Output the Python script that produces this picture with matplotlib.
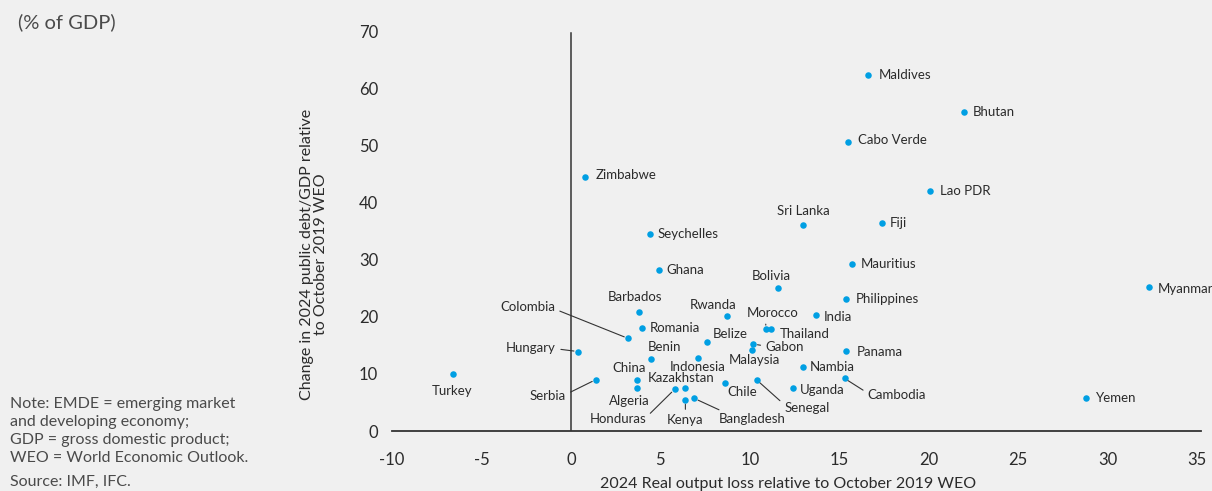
import matplotlib
matplotlib.use("Agg")
import matplotlib.pyplot as plt

plt.rcParams['font.family'] = ['Lato', 'DejaVu Sans']
plt.rcParams['axes.unicode_minus'] = False

BG = '#f0f0f0'
DOT = '#009fe3'
INK = '#2b2b2b'
NOTE = '#4a4a4a'

countries = [
    "Maldives", "Bhutan", "Cabo Verde", "Lao PDR", "Sri Lanka", "Fiji",
    "Zimbabwe", "Seychelles", "Ghana", "Mauritius", "Bolivia", "Myanmar",
    "Philippines", "India", "Barbados", "Rwanda", "Colombia", "Romania",
    "Morocco", "Thailand", "Belize", "Gabon", "Malaysia", "Hungary",
    "Panama", "Benin", "Indonesia", "Nambia", "Turkey", "China", "Serbia",
    "Kazakhstan", "Algeria", "Honduras", "Chile", "Senegal", "Uganda",
    "Cambodia", "Kenya", "Bangladesh", "Yemen",
]
output_loss = [
    16.6, 22.0, 15.5, 20.1, 13.0, 17.4,
    0.8, 4.4, 4.9, 15.7, 11.6, 32.3,
    15.4, 13.7, 3.8, 8.7, 3.2, 4.0,
    10.9, 11.2, 7.6, 10.2, 10.1, 0.4,
    15.4, 4.5, 7.1, 13.0, -6.6, 3.7, 1.4,
    6.4, 3.7, 5.8, 8.6, 10.4, 12.4,
    15.3, 6.4, 6.9, 28.8,
]
debt_change = [
    62.3, 55.8, 50.6, 42.0, 36.0, 36.4,
    44.4, 34.4, 28.1, 29.2, 25.0, 25.2,
    23.1, 20.3, 20.8, 20.2, 16.2, 18.0,
    17.8, 17.8, 15.6, 15.2, 14.2, 13.9,
    14.0, 12.6, 12.7, 11.2, 9.9, 9.0, 9.0,
    7.5, 7.6, 7.3, 8.4, 8.9, 7.5,
    9.2, 5.4, 5.7, 5.8,
]

x_ticks = [-10, -5, 0, 5, 10, 15, 20, 25, 30, 35]
y_ticks = [0, 10, 20, 30, 40, 50, 60, 70]

# label placement: offset in pixels from the dot, text alignment, leader relpos (None = no line)
LABEL_POS = {
    "Maldives": (11, 0, 'left', None),
    "Bhutan": (8, 0, 'left', None),
    "Cabo Verde": (10, 2, 'left', None),
    "Lao PDR": (10, 0, 'left', None),
    "Sri Lanka": (0, 14, 'center', None),
    "Fiji": (8, 0, 'left', None),
    "Zimbabwe": (10, 2, 'left', None),
    "Seychelles": (8, 0, 'left', None),
    "Ghana": (8, 0, 'left', None),
    "Mauritius": (9, 0, 'left', None),
    "Bolivia": (-7, 12, 'center', None),
    "Myanmar": (9, -2, 'left', None),
    "Philippines": (9, 0, 'left', None),
    "India": (8, -2, 'left', None),
    "Barbados": (-4, 15, 'center', None),
    "Rwanda": (-13, 11, 'center', None),
    "Colombia": (-73, 31, 'right', (1.0, 0.35)),
    "Romania": (7, 0, 'left', None),
    "Morocco": (7, 16, 'center', (0.36, 0.0)),
    "Thailand": (8, -5, 'left', None),
    "Belize": (6, 8, 'left', None),
    "Gabon": (12, -3, 'left', (0.0, 0.6)),
    "Malaysia": (3, -10, 'center', None),
    "Hungary": (-22, 4, 'right', (1.0, 0.4)),
    "Panama": (10, -1, 'left', None),
    "Benin": (13, 12, 'center', None),
    "Indonesia": (0, -9, 'center', None),
    "Nambia": (6, 0, 'left', None),
    "Turkey": (-1, -17, 'center', None),
    "China": (-8, 12, 'center', None),
    "Serbia": (-30, -16, 'right', (1.0, 0.6)),
    "Kazakhstan": (-4, 10, 'center', None),
    "Algeria": (-8, -13, 'center', None),
    "Honduras": (-57, -30, 'center', (1.0, 0.65)),
    "Chile": (3, -9, 'left', None),
    "Senegal": (50, -28, 'center', (0.0, 0.8)),
    "Uganda": (7, -2, 'left', None),
    "Cambodia": (23, -17, 'left', (0.0, 0.7)),
    "Kenya": (0, -20, 'center', (0.5, 1.0)),
    "Bangladesh": (58, -21, 'center', (0.12, 1.0)),
    "Yemen": (10, 0, 'left', None),
}

fig = plt.figure(figsize=(12.12, 4.91), dpi=100)
fig.patch.set_facecolor(BG)

ax = fig.add_axes([392 / 1212, 1 - 431 / 491, 808.6 / 1212, 400 / 491])
ax.set_facecolor(BG)
ax.set_xlim(-10, 35.2)
ax.set_ylim(0, 70)

for s in ['top', 'right', 'left']:
    ax.spines[s].set_visible(False)
ax.spines['bottom'].set_color('#333333')
ax.spines['bottom'].set_linewidth(1.3)
ax.axvline(0, ymax=0.995, color='#333333', lw=1.1, zorder=1)

ax.set_xticks(x_ticks)
ax.set_yticks(y_ticks)
ax.tick_params(axis='both', length=0, labelsize=12, labelcolor=INK)
ax.tick_params(axis='x', pad=15)
ax.tick_params(axis='y', pad=10)

ax.scatter(output_loss, debt_change, s=22, color=DOT, zorder=3, linewidths=0)

for name, xv, yv in zip(countries, output_loss, debt_change):
    dx, dy, ha, relpos = LABEL_POS[name]
    kw = {}
    if relpos is not None:
        kw['arrowprops'] = dict(arrowstyle='-', color='#333333', lw=0.8,
                                relpos=relpos, shrinkA=1.5, shrinkB=3)
    ax.annotate(name, (xv, yv), xytext=(dx, dy), textcoords='offset pixels',
                ha=ha, va='center', fontsize=9.5, color=INK, zorder=4, **kw)

ax.set_xlabel("2024 Real output loss relative to October 2019 WEO",
              fontsize=11.5, color=INK, va='center')
ax.xaxis.set_label_coords(0.49, -0.1325)
ax.set_ylabel("Change in 2024 public debt/GDP relative\nto October 2019 WEO",
              fontsize=11.5, color=INK, va='center', ha='center',
              linespacing=1.0)
ax.yaxis.set_label_coords(-0.0965, 0.4425)

fig.text(18 / 1212, 1 - 22 / 491, "(% of GDP)", fontsize=14.5, color=NOTE,
         va='center', ha='left')
fig.text(10 / 1212, 1 - 431 / 491,
         "Note: EMDE = emerging market\nand developing economy;\n"
         "GDP = gross domestic product;\nWEO = World Economic Outlook.",
         fontsize=11.5, color=NOTE, va='center', ha='left', linespacing=1.38)
fig.text(10 / 1212, 1 - 482 / 491, "Source: IMF, IFC.", fontsize=11.5,
         color=NOTE, va='center', ha='left')

fig.savefig("out.png", dpi=100, facecolor=BG)
